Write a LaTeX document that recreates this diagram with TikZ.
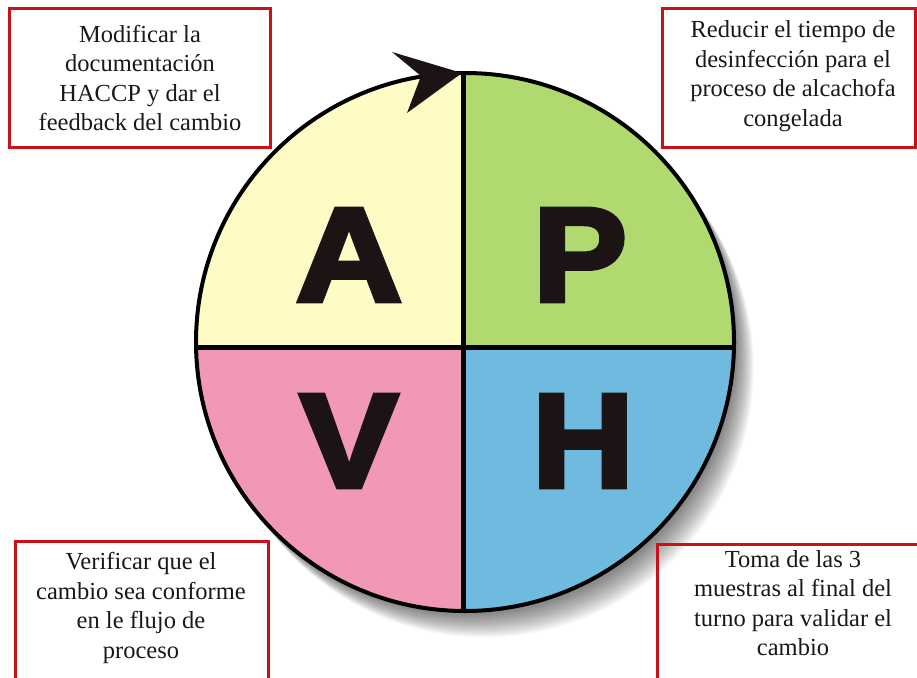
\documentclass[tikz,border=0pt]{standalone}
\usepackage{fontspec}
\setmainfont{Liberation Serif}
\newfontfamily\labelserif{Liberation Serif}
\newfontfamily\heavysans{Liberation Sans}[BoldFeatures={FakeBold=3.5}]
\definecolor{qyellow}{RGB}{254,251,197}
\definecolor{qgreen}{RGB}{176,218,112}
\definecolor{qpink}{RGB}{241,151,184}
\definecolor{qblue}{RGB}{111,186,223}
\definecolor{boxred}{RGB}{204,16,24}
\definecolor{letterink}{RGB}{28,20,20}
\definecolor{textink}{RGB}{25,25,25}
\tikzset{
  lbl/.style={font=\labelserif\fontsize{24.5}{29.5}\selectfont, align=center, text=textink, inner sep=0pt},
  quadletter/.style={font=\heavysans\bfseries\fontsize{134}{134}\selectfont, text=letterink, inner sep=0pt},
  redbox/.style={draw=boxred, line width=3pt},
  rim/.style={draw=black, line width=4pt},
  divider/.style={draw=black, line width=5pt},
}
\begin{document}
\begin{tikzpicture}[x=1pt,y=-1pt]
\useasboundingbox (0,0) rectangle (917,677);
\fill[white] (0,0) rectangle (917,677);
% centre of the circle and crossing point
\coordinate (C) at (465,342);
\coordinate (O) at (463,347);
% soft shadow
\foreach \i in {1,...,22}{
  \fill[black,opacity=0.026] ({465+0.9*\i},{342+1.2*\i}) circle[radius=269pt];
}
% quadrants
\begin{scope}
  \clip (C) circle[radius=269pt];
  \fill[qyellow] (180,60) rectangle (O);
  \fill[qgreen] (463,60) rectangle (750,347);
  \fill[qpink] (180,347) rectangle (463,630);
  \fill[qblue] (463,347) rectangle (750,630);
\end{scope}
% dividers
\coordinate (top) at (463,73);
\coordinate (bot) at (463,611);
\coordinate (lft) at (196,347);
\coordinate (rgt) at (734,347);
\draw[divider] (top) -- (bot);
\draw[divider] (lft) -- (rgt);
% rim
\draw[rim] (C) circle[radius=269pt];
% arrow head on the rim
\fill[letterink] (392,52) -- (462,73) -- (407,113) -- (421,76) -- cycle;
% letters
\node[quadletter] (A) at (349,255) {\scalebox{1.1}[1]{A}};
\node[quadletter] (P) at (580,255) {\scalebox{1.05}[1]{P}};
\node[quadletter] (V) at (349,441) {\scalebox{1.1}[1]{V}};
\node[quadletter] (H) at (583,441) {\scalebox{1.05}[1]{H}};
% red boxes
\draw[redbox] (9,9) rectangle (270,147);
\draw[redbox] (662,9) rectangle (915,147);
\draw[redbox] (15,541) rectangle (268,700);
\draw[redbox] (657,544) rectangle (940,700);
% texts
\node[lbl] (tA) at (140,78) {Modificar la\\documentación\\HACCP y dar el\\feedback del cambio};
\node[lbl] (tP) at (793,76) {Reducir el tiempo de\\desinfección para el\\proceso de alcachofa\\congelada};
\node[lbl] (tV) at (141,608) {Verificar que el\\cambio sea conforme\\en le flujo de\\proceso};
\node[lbl] (tH) at (793,603) {Toma de las 3\\muestras al final del\\turno para validar el\\cambio};
\end{tikzpicture}
\end{document}
